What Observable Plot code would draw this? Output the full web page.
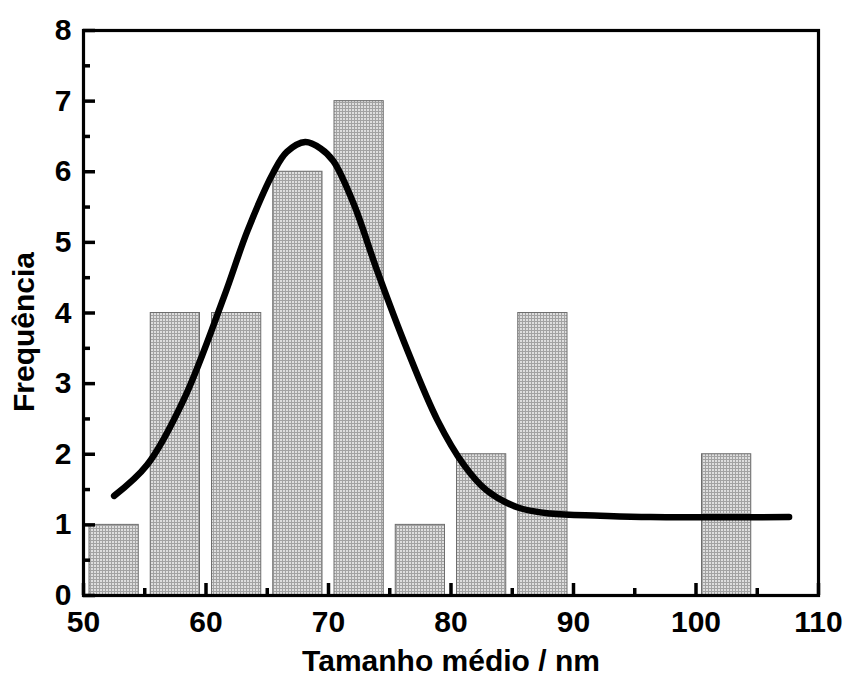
<!DOCTYPE html>
<html>
<head>
<meta charset="utf-8">
<script src="https://cdn.jsdelivr.net/npm/d3@7"></script>
<script src="https://cdn.jsdelivr.net/npm/@observablehq/plot@0.6"></script>
<style>
  html, body { margin: 0; padding: 0; background: #fff; }
  svg { font-family: "Liberation Sans", Arial, sans-serif; font-weight: bold; }
</style>
</head>
<body>
<div id="chart"></div>
<script>
// Histogram bins (start of each 5 nm bin) and counts
const binStart = [50, 55, 60, 65, 70, 75, 80, 85, 100];
const binWidth = 5;
const freq = [1, 4, 4, 6, 7, 1, 2, 4, 2];

// Fitted curve
const curveX = [52.5, 55.2, 58.2, 61.45, 63.4, 65.5, 66.6, 68.1, 69.35, 70.4, 72.07, 73.97, 76.4, 78.9, 81.05, 82.9, 85.4, 88.1, 92.2, 96.3, 107.6];
const curveY = [1.41, 1.85, 2.78, 4.22, 5.17, 5.99, 6.28, 6.42, 6.33, 6.15, 5.54, 4.60, 3.49, 2.48, 1.85, 1.49, 1.25, 1.16, 1.13, 1.11, 1.11];

// Ticks
const xMajor = [50, 60, 70, 80, 90, 100, 110];
const xMinor = [55, 65, 75, 85, 95, 105];
const yMajor = [0, 1, 2, 3, 4, 5, 6, 7, 8];
const yMinor = [0.5, 1.5, 2.5, 3.5, 4.5, 5.5, 6.5, 7.5];

const xTitle = "Tamanho médio / nm";
const yTitle = "Frequência";

const bars = binStart.map((s, i) => ({x1: s, x2: s + binWidth, y: freq[i]}));
const curve = curveX.map((x, i) => ({x, y: curveY[i]}));

const W = 848, H = 677, ML = 83, MR = 30, MT = 30, MB = 82;
const FW = W - ML - MR, FH = H - MT - MB;
const FS = 30;

const svg = Plot.plot({
  width: W,
  height: H,
  marginLeft: ML,
  marginRight: MR,
  marginTop: MT,
  marginBottom: MB,
  style: {fontFamily: "'Liberation Sans', Arial, sans-serif", fontWeight: "bold", background: "#fff", color: "#000"},
  x: {domain: [50, 110]},
  y: {domain: [0, 8]},
  marks: [
    Plot.rectY(bars, {x1: "x1", x2: "x2", y: "y", insetLeft: 6, insetRight: 6, fill: "url(#gridfill)", stroke: "#6e6e6e", strokeWidth: 1}),
    Plot.line(curve, {x: "x", y: "y", curve: "catmull-rom", stroke: "#000", strokeWidth: 6.5, strokeLinecap: "round", strokeLinejoin: "round"}),
    // inward ticks on the bottom and left edges
    Plot.ruleX(xMajor, {insetTop: FH - 12, stroke: "#000", strokeWidth: 3.5}),
    Plot.ruleX(xMinor, {insetTop: FH - 7, stroke: "#000", strokeWidth: 3.5}),
    Plot.ruleY(yMajor, {insetRight: FW - 12, stroke: "#000", strokeWidth: 3.5}),
    Plot.ruleY(yMinor, {insetRight: FW - 7, stroke: "#000", strokeWidth: 3.5}),
    // tick labels
    Plot.axisX({ticks: xMajor, tickSize: 0, tickPadding: 15, fontSize: FS, fontWeight: "bold", label: null, fill: "#000"}),
    Plot.axisY({ticks: yMajor, tickSize: 0, tickPadding: 12, fontSize: FS, fontWeight: "bold", label: null, fill: "#000"}),
    Plot.frame({stroke: "#000", strokeWidth: 3.2}),
    // axis titles
    Plot.text([xTitle], {frameAnchor: "bottom", dy: 66, fontSize: FS, fontWeight: "bold", fill: "#000", lineAnchor: "middle"}),
    Plot.text([yTitle], {frameAnchor: "left", dx: -59, dy: 19, rotate: -90, textAnchor: "middle", fontSize: FS, fontWeight: "bold", fill: "#000"})
  ]
});

d3.select(svg).insert("defs", ":first-child").html(`
  <pattern id="gridfill" width="3" height="3" patternUnits="userSpaceOnUse">
    <rect width="3" height="3" fill="#dedede"></rect>
    <rect width="1" height="3" fill="#a2a2a2"></rect>
    <rect width="3" height="1" fill="#a2a2a2"></rect>
  </pattern>`);

document.getElementById("chart").appendChild(svg);
</script>
</body>
</html>
